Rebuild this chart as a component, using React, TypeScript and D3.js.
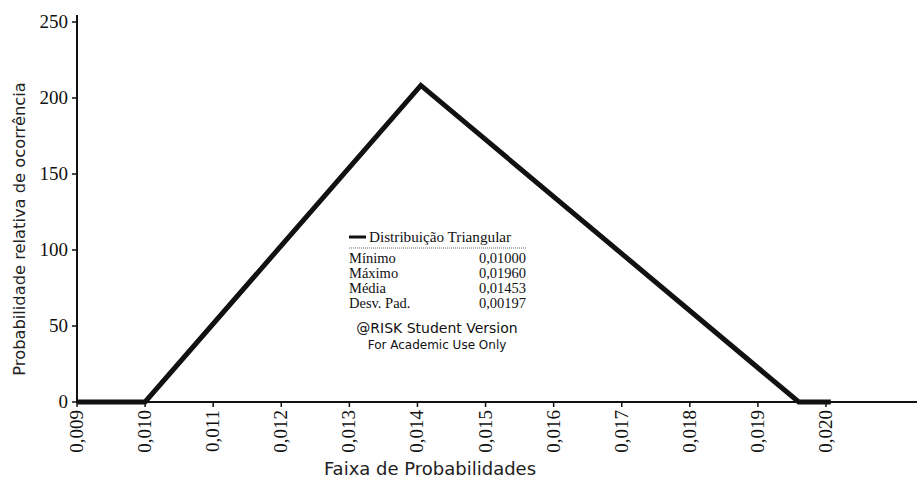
import React from "react";
import * as d3 from "d3";

const xTicks = [0.009, 0.01, 0.011, 0.012, 0.013, 0.014, 0.015, 0.016, 0.017, 0.018, 0.019, 0.02];
const yTicks = [0, 50, 100, 150, 200, 250];
const curveX = [0.009, 0.01, 0.01405, 0.0196, 0.02007];
const curveY = [0, 0, 208.3, 0, 0];
const statLabels = ["Mínimo", "Máximo", "Média", "Desv. Pad."];
const statValues = ["0,01000", "0,01960", "0,01453", "0,00197"];
const seriesName = "Distribuição Triangular";

export default function App() {
  const W = 917, H = 484;
  const x = d3.scaleLinear().domain([0.009, 0.02]).range([77, 826]);
  const y = d3.scaleLinear().domain([0, 250]).range([402, 22]);
  const pts: [number, number][] = curveX.map((v, i) => [x(v), y(curveY[i])]);
  const line = d3.line<[number, number]>().x(d => d[0]).y(d => d[1])(pts) || "";
  const fmt = (v: number) => v.toFixed(3).replace(".", ",");
  const serif = { fontFamily: "'Liberation Serif', 'Times New Roman', serif" };
  const sans = { fontFamily: "'DejaVu Sans', Verdana, sans-serif" };
  const lx = 349, rx = 526;
  return (
    <svg width={W} height={H} style={{ position: "absolute", left: 0, top: 0, background: "#fff" }}>
      <line x1={77} y1={15} x2={77} y2={403} stroke="#111" strokeWidth={2} />
      <line x1={76} y1={402} x2={917} y2={402} stroke="#111" strokeWidth={2} />
      {yTicks.map(t => (
        <g key={t}>
          <line x1={72} x2={77} y1={y(t)} y2={y(t)} stroke="#111" strokeWidth={1.5} />
          <text x={68} y={y(t) + 6} textAnchor="end" style={{ ...serif, fontSize: 19 }} fill="#111">{t}</text>
        </g>
      ))}
      {xTicks.map(t => (
        <g key={t}>
          <line x1={x(t)} x2={x(t)} y1={402} y2={407} stroke="#111" strokeWidth={1.5} />
          <text transform={`translate(${x(t) + 6},${410}) rotate(-90)`} textAnchor="end" style={{ ...serif, fontSize: 19 }} fill="#111">{fmt(t)}</text>
        </g>
      ))}
      <path d={line} fill="none" stroke="#111" strokeWidth={5} strokeLinejoin="miter" />
      <text transform={`translate(25,229) rotate(-90)`} textAnchor="middle" style={{ ...sans, fontSize: 16.3 }} fill="#222">Probabilidade relativa de ocorrência</text>
      <text x={430} y={475} textAnchor="middle" style={{ ...sans, fontSize: 18 }} fill="#222">Faixa de Probabilidades</text>
      <line x1={lx} x2={lx + 17} y1={237} y2={237} stroke="#111" strokeWidth={3} />
      <text x={369} y={242} style={{ ...serif, fontSize: 15.2 }} fill="#111">{seriesName}</text>
      <line x1={lx} x2={rx} y1={248} y2={248} stroke="#666" strokeWidth={1} strokeDasharray="1,1" />
      {statLabels.map((s, i) => (
        <g key={s}>
          <text x={lx} y={263 + i * 15} style={{ ...serif, fontSize: 14.5 }} fill="#111">{s}</text>
          <text x={rx} y={263 + i * 15} textAnchor="end" style={{ ...serif, fontSize: 14.5 }} fill="#111">{statValues[i]}</text>
        </g>
      ))}
      <text x={437} y={333} textAnchor="middle" style={{ ...sans, fontSize: 14 }} fill="#111">@RISK Student Version</text>
      <text x={437} y={349} textAnchor="middle" style={{ ...sans, fontSize: 12 }} fill="#111">For Academic Use Only</text>
    </svg>
  );
}
